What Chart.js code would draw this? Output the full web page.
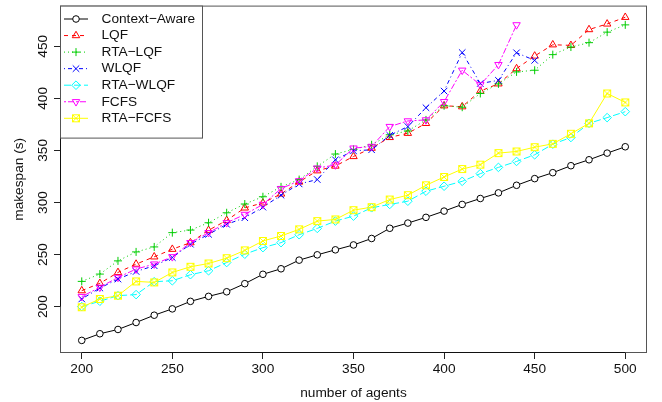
<!DOCTYPE html>
<html>
<head>
<meta charset="utf-8">
<script src="https://cdn.jsdelivr.net/npm/chart.js@4.4.1/dist/chart.umd.min.js"></script>
<style>
  html, body { margin: 0; padding: 0; background: #fff; }
  #wrap { width: 662px; height: 402px; }
</style>
</head>
<body>
<div id="wrap"><canvas id="chart" width="662" height="402"></canvas></div>
<script>
const agents = [200, 210, 220, 230, 240, 250, 260, 270, 280, 290, 300, 310, 320, 330, 340, 350,
    360, 370, 380, 390, 400, 410, 420, 430, 440, 450, 460, 470, 480, 490, 500];

const contextAware = [167.5, 173.9, 178.0, 184.7, 191.7, 197.8, 205.0, 209.8, 214.2, 222.0, 231.0,
    236.3, 244.6, 249.7, 254.5, 259.2, 265.4, 275.2, 280.2, 285.7, 291.7, 298.1, 303.8, 309.2,
    316.5, 322.9, 328.6, 335.3, 341.0, 347.4, 353.5];
const lqf = [215.3, 222.3, 232.8, 240.8, 247.8, 255.1, 261.4, 273.3, 282.8, 294.8, 299.6, 308.2,
    319.7, 330.5, 335.0, 344.2, 352.2, 362.5, 366.5, 376.0, 392.9, 392.0, 407.0, 414.0, 428.6,
    440.7, 451.5, 450.9, 466.1, 471.5, 477.9];
const rtaLqf = [224.2, 231.2, 243.9, 252.5, 257.3, 271.0, 273.5, 280.5, 290.1, 298.5, 305.5, 315.0,
    322.0, 334.7, 346.5, 351.0, 355.4, 365.0, 368.7, 379.3, 392.9, 391.5, 404.7, 413.9, 425.4,
    427.0, 442.0, 449.3, 453.5, 463.6, 470.6];
const wlqf = [207.3, 217.8, 226.4, 233.7, 239.2, 247.1, 259.9, 269.4, 279.0, 285.3, 295.5, 307.0,
    317.8, 322.0, 341.0, 349.6, 350.6, 364.5, 372.9, 391.0, 407.0, 444.0, 414.3, 417.3, 443.8,
    436.5, null, null, null, null, null];
const rtaWlqf = [200.0, 205.1, 210.5, 211.5, 223.9, 224.8, 230.6, 234.4, 242.3, 250.3, 256.6, 261.4,
    269.0, 275.1, 282.1, 286.9, 294.9, 298.1, 301.2, 310.8, 315.6, 320.3, 327.7, 333.7, 339.4,
    345.8, 356.0, 362.4, 376.0, 381.5, 387.2];
const fcfs = [209.6, 218.5, 228.0, 236.0, 240.8, 247.8, 261.4, 271.0, 280.5, 288.5, 298.1, 313.3,
    320.8, 333.0, 336.0, 352.2, 353.8, 372.9, 378.3, 379.3, 396.8, 427.0, 413.0, 432.4, 470.6,
    null, null, null, null, null, null];
const rtaFcfs = [199.4, 207.3, 210.5, 224.2, 223.2, 232.8, 238.2, 241.4, 246.5, 254.0, 263.0, 267.8,
    274.2, 282.1, 283.7, 292.6, 295.5, 302.8, 307.0, 316.5, 324.5, 332.1, 336.3, 347.4, 349.0,
    353.1, 356.3, 366.0, 376.0, 404.7, 396.1];

const seriesNames = ['Context\u2212Aware', 'LQF', 'RTA\u2212LQF', 'WLQF', 'RTA\u2212WLQF', 'FCFS', 'RTA\u2212FCFS'];
const xTickValues = [200, 250, 300, 350, 400, 450, 500];
const yTickValues = [200, 250, 300, 350, 400, 450];

const FONT = "'Liberation Sans', Arial, Helvetica, sans-serif";
const FONT_SIZE = 13.7;
Chart.defaults.font.family = FONT;
Chart.defaults.font.size = FONT_SIZE;
Chart.defaults.color = '#111';

// R's pch 7 (square with an x) has no Chart.js equivalent
function boxCross(color) {
    const c = document.createElement('canvas');
    c.width = 10;
    c.height = 10;
    const g = c.getContext('2d');
    g.strokeStyle = color;
    g.lineWidth = 1;
    g.strokeRect(1.5, 1.5, 7, 7);
    g.beginPath();
    g.moveTo(1.5, 1.5); g.lineTo(8.5, 8.5);
    g.moveTo(8.5, 1.5); g.lineTo(1.5, 8.5);
    g.stroke();
    return c;
}

const styles = [
    { color: '#000000', dash: [], point: 'circle', radius: 3.3, rotation: 0, fill: '#ffffff' },
    { color: '#ff0000', dash: [4, 4], point: 'triangle', radius: 4.3, rotation: 0 },
    { color: '#00cd00', dash: [1, 3], point: 'cross', radius: 4, rotation: 0 },
    { color: '#0000ff', dash: [1, 3, 4, 3], point: 'crossRot', radius: 4.6, rotation: 0 },
    { color: '#00ffff', dash: [7, 3], point: 'rectRot', radius: 4.3, rotation: 0 },
    { color: '#ff00ff', dash: [2, 2, 6, 2], point: 'triangle', radius: 4.3, rotation: 180 },
    { color: '#ffff00', dash: [], point: boxCross('#ffff00'), radius: 4, rotation: 0 },
];

const seriesValues = [contextAware, lqf, rtaLqf, wlqf, rtaWlqf, fcfs, rtaFcfs];

const datasets = seriesValues.map((values, i) => {
    const s = styles[i];
    return {
        label: seriesNames[i],
        data: agents.map((a, j) => ({ x: a, y: values[j] })),
        borderColor: s.color,
        backgroundColor: s.color,
        borderWidth: 1,
        borderDash: s.dash,
        pointStyle: s.point,
        pointRadius: s.radius,
        pointRotation: s.rotation,
        pointBorderColor: s.color,
        pointBorderWidth: 1,
        pointBackgroundColor: s.fill || 'rgba(0,0,0,0)',
        tension: 0,
        spanGaps: false,
        fill: false,
        order: seriesValues.length - i,
    };
});

const framePlugin = {
    id: 'frame',
    afterDraw(chart) {
        const { ctx, chartArea: a, scales: { x, y } } = chart;
        ctx.save();
        // plot box
        ctx.strokeStyle = '#555';
        ctx.lineWidth = 1;
        ctx.strokeRect(a.left + 0.5, a.top + 0.5, a.right - a.left - 1, a.bottom - a.top - 1);

        // axis lines, first to last tick
        ctx.strokeStyle = '#111';
        ctx.beginPath();
        ctx.moveTo(x.getPixelForValue(xTickValues[0]), a.bottom - 0.5);
        ctx.lineTo(x.getPixelForValue(xTickValues[xTickValues.length - 1]), a.bottom - 0.5);
        ctx.moveTo(a.left + 0.5, y.getPixelForValue(yTickValues[0]));
        ctx.lineTo(a.left + 0.5, y.getPixelForValue(yTickValues[yTickValues.length - 1]));
        ctx.stroke();

        // rotated y tick labels
        ctx.fillStyle = '#111';
        ctx.font = `${FONT_SIZE}px ${FONT}`;
        ctx.textAlign = 'center';
        ctx.textBaseline = 'middle';
        yTickValues.forEach((v) => {
            ctx.save();
            ctx.translate(43.5, y.getPixelForValue(v));
            ctx.rotate(-Math.PI / 2);
            ctx.fillText(String(v), 0, 0);
            ctx.restore();
        });

        // legend
        const lx = a.left + 0.5;
        const ly = a.top + 0.5;
        ctx.fillStyle = '#ffffff';
        ctx.fillRect(lx, ly, 142, 132);
        ctx.strokeStyle = '#555';
        ctx.strokeRect(lx, ly, 142, 132);
        chart.data.datasets.forEach((ds, i) => {
            const rowY = 19 + i * 16.55;
            ctx.save();
            ctx.strokeStyle = ds.borderColor;
            ctx.lineWidth = 1;
            ctx.setLineDash(ds.borderDash);
            ctx.beginPath();
            ctx.moveTo(64, rowY);
            ctx.lineTo(88, rowY);
            ctx.stroke();
            ctx.setLineDash([]);
            ctx.fillStyle = ds.pointBackgroundColor;
            ctx.strokeStyle = ds.pointBorderColor;
            if (Chart.helpers && Chart.helpers.drawPoint) {
                Chart.helpers.drawPoint(ctx, {
                    pointStyle: ds.pointStyle,
                    rotation: ds.pointRotation,
                    radius: ds.pointRadius,
                    borderWidth: 1,
                }, 76, rowY);
            }
            ctx.restore();
            ctx.fillStyle = '#111';
            ctx.textAlign = 'left';
            ctx.textBaseline = 'middle';
            ctx.fillText(ds.label, 101.5, rowY);
        });
        ctx.restore();
    },
};

new Chart(document.getElementById('chart'), {
    type: 'line',
    data: { datasets },
    options: {
        responsive: false,
        animation: false,
        events: [],
        layout: { padding: { top: 3, right: 15, bottom: 0, left: 0 } },
        plugins: {
            legend: { display: false },
            tooltip: { enabled: false },
        },
        scales: {
            x: {
                type: 'linear',
                min: 188,
                max: 512,
                afterBuildTicks: (scale) => { scale.ticks = xTickValues.map((v) => ({ value: v })); },
                afterFit: (scale) => { scale.height = 49; },
                ticks: { padding: 2, color: '#111', maxRotation: 0 },
                grid: { drawOnChartArea: false, drawTicks: true, tickLength: 6, color: '#222' },
                border: { display: false },
                title: { display: true, text: 'number of agents', color: '#111', padding: { top: 0, bottom: 1 } },
            },
            y: {
                type: 'linear',
                min: 155.4,
                max: 489.1,
                afterBuildTicks: (scale) => { scale.ticks = yTickValues.map((v) => ({ value: v })); },
                afterFit: (scale) => { scale.width = 60; },
                ticks: { display: false },
                grid: { drawOnChartArea: false, drawTicks: true, tickLength: 6, color: '#222' },
                border: { display: false },
                title: { display: true, text: 'makespan (s)', color: '#111', padding: { top: 11.3, bottom: 0 } },
            },
        },
    },
    plugins: [framePlugin],
});
</script>
</body>
</html>
